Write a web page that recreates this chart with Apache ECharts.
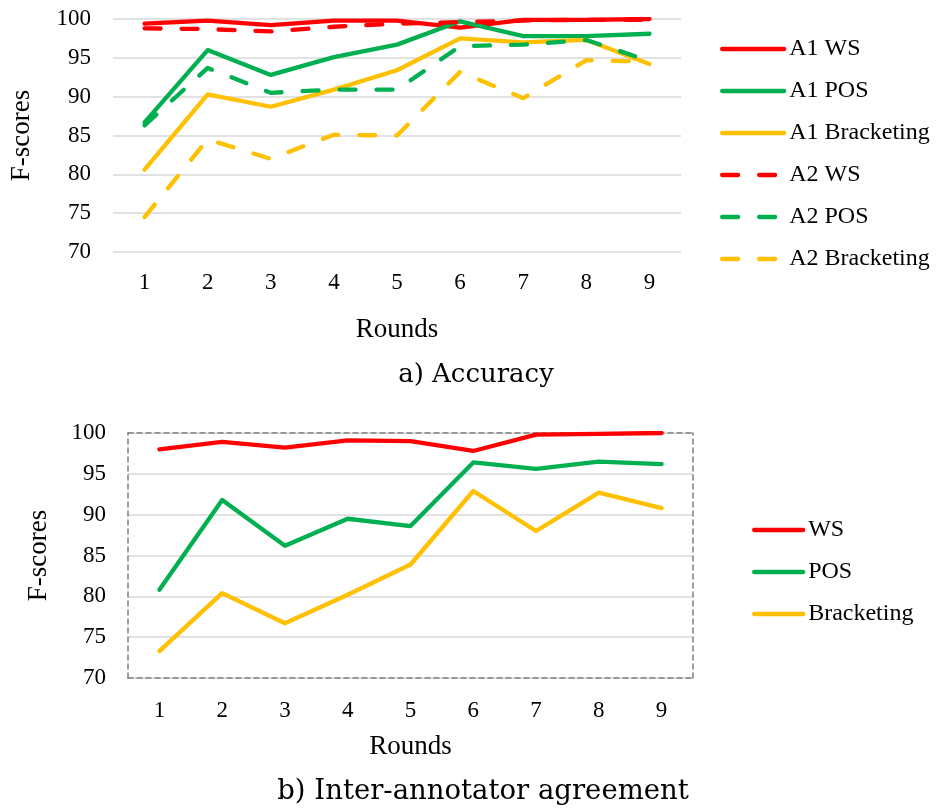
<!DOCTYPE html>
<html>
<head>
<meta charset="utf-8">
<script src="https://cdn.jsdelivr.net/npm/echarts@6/dist/echarts.min.js"></script>
<style>
  html, body { margin: 0; padding: 0; background: #fff; }
  #main { width: 941px; height: 808px; }
</style>
</head>
<body>
<div id="main"></div>
<script>
// rounds on the x axis (both panels)
var rounds = ['1', '2', '3', '4', '5', '6', '7', '8', '9'];

// a) Accuracy
var a1WS = [99.4, 99.8, 99.2, 99.8, 99.8, 98.9, 99.9, 99.9, 100];
var a1POS = [86.7, 96.0, 92.8, 95.1, 96.7, 99.7, 97.8, 97.8, 98.1];
var a1Brk = [80.6, 90.3, 88.7, 90.9, 93.4, 97.5, 97.0, 97.3, 94.2];
var a2WS = [98.8, 98.7, 98.4, 99.0, 99.4, 99.6, 99.8, 99.9, 99.9];
var a2POS = [86.3, 93.7, 90.5, 90.9, 90.9, 96.5, 96.7, 97.3, 94.6];
var a2Brk = [74.5, 84.5, 82.0, 85.1, 85.0, 93.2, 89.8, 94.7, 94.5];

// b) Inter-annotator agreement
var iaaWS = [98.0, 98.9, 98.2, 99.1, 99.0, 97.8, 99.8, 99.9, 100];
var iaaPOS = [80.8, 91.8, 86.2, 89.5, 88.6, 96.4, 95.6, 96.5, 96.2];
var iaaBrk = [73.3, 80.4, 76.7, 80.2, 83.9, 92.9, 88.0, 92.7, 90.8];

var RED = '#ff0000', GREEN = '#00b050', YELLOW = '#ffc000';
var serif = '"Liberation Serif", "Times New Roman", serif';
var dash = [16, 21];

var chart = echarts.init(document.getElementById('main'));

function line(name, data, color, dashed, idx) {
  return {
    name: name,
    type: 'line',
    xAxisIndex: idx,
    yAxisIndex: idx,
    data: data,
    symbol: 'none',
    animation: false,
    lineStyle: {
      color: color,
      width: 4.3,
      type: dashed ? dash : 'solid',
      cap: 'round',
      join: 'round'
    },
    itemStyle: { color: color }
  };
}

var tickLabel = { fontFamily: serif, fontSize: 23, color: '#000' };
var axisName = { fontFamily: serif, fontSize: 27, color: '#000' };
var borderLine = { show: true, lineStyle: { color: '#7f7f7f', width: 1.5, type: [5, 4] } };

var option = {
  backgroundColor: '#fff',
  grid: [
    { left: 113, top: 19, width: 568, height: 233 },
    { left: 128, top: 433, width: 565, height: 245 }
  ],
  xAxis: [
    {
      gridIndex: 0, type: 'category', data: rounds, boundaryGap: true,
      axisLine: { show: false }, axisTick: { show: false },
      axisLabel: Object.assign({ margin: 19 }, tickLabel),
      name: 'Rounds', nameLocation: 'middle', nameGap: 64, nameTextStyle: axisName
    },
    {
      gridIndex: 1, type: 'category', data: rounds, boundaryGap: true,
      axisLine: borderLine, axisTick: { show: false },
      axisLabel: Object.assign({ margin: 21 }, tickLabel),
      name: 'Rounds', nameLocation: 'middle', nameGap: 55, nameTextStyle: axisName
    },
    {
      gridIndex: 1, type: 'category', data: rounds, position: 'top',
      axisLine: borderLine, axisTick: { show: false }, axisLabel: { show: false }
    }
  ],
  yAxis: [
    {
      gridIndex: 0, type: 'value', min: 70, max: 100, interval: 5,
      axisLine: { show: false }, axisTick: { show: false },
      axisLabel: Object.assign({ margin: 22 }, tickLabel),
      splitLine: { lineStyle: { color: '#d9d9d9', width: 1.5 } },
      name: 'F-scores', nameLocation: 'middle', nameRotate: 90, nameGap: 78, nameTextStyle: axisName
    },
    {
      gridIndex: 1, type: 'value', min: 70, max: 100, interval: 5,
      axisLine: borderLine, axisTick: { show: false },
      axisLabel: Object.assign({ margin: 22 }, tickLabel),
      splitLine: { lineStyle: { color: '#d9d9d9', width: 1.5 } },
      name: 'F-scores', nameLocation: 'middle', nameRotate: 90, nameGap: 76, nameTextStyle: axisName
    },
    {
      gridIndex: 1, type: 'value', min: 70, max: 100, interval: 5, position: 'right',
      axisLine: borderLine, axisTick: { show: false }, axisLabel: { show: false },
      splitLine: { show: false }
    }
  ],
  legend: [
    {
      data: ['A1 WS', 'A1 POS', 'A1 Bracketing', 'A2 WS', 'A2 POS', 'A2 Bracketing'],
      orient: 'vertical', left: 720, top: 37, padding: 0,
      itemWidth: 62, itemHeight: 24, itemGap: 18,
      lineStyle: { width: 4.3 },
      itemStyle: { opacity: 0 },
      textStyle: { fontFamily: serif, fontSize: 24, color: '#000' }
    },
    {
      data: ['WS', 'POS', 'Bracketing'],
      orient: 'vertical', left: 752, top: 518, padding: 0,
      itemWidth: 49, itemHeight: 24, itemGap: 18,
      lineStyle: { width: 4.3 },
      itemStyle: { opacity: 0 },
      textStyle: { fontFamily: serif, fontSize: 24, color: '#000' }
    }
  ],
  graphic: [
    {
      type: 'text', x: 476, y: 375,
      style: { text: 'a) Accuracy', font: '26px "DejaVu Serif"', fill: '#000', textAlign: 'center', textVerticalAlign: 'middle' }
    },
    {
      type: 'text', x: 483, y: 792,
      style: { text: 'b) Inter-annotator agreement', font: '27.5px "DejaVu Serif"', fill: '#000', textAlign: 'center', textVerticalAlign: 'middle' }
    }
  ],
  series: [
    line('A1 WS', a1WS, RED, false, 0),
    line('A1 POS', a1POS, GREEN, false, 0),
    line('A1 Bracketing', a1Brk, YELLOW, false, 0),
    line('A2 WS', a2WS, RED, true, 0),
    line('A2 POS', a2POS, GREEN, true, 0),
    line('A2 Bracketing', a2Brk, YELLOW, true, 0),
    line('WS', iaaWS, RED, false, 1),
    line('POS', iaaPOS, GREEN, false, 1),
    line('Bracketing', iaaBrk, YELLOW, false, 1)
  ]
};

chart.setOption(option);
</script>
</body>
</html>
